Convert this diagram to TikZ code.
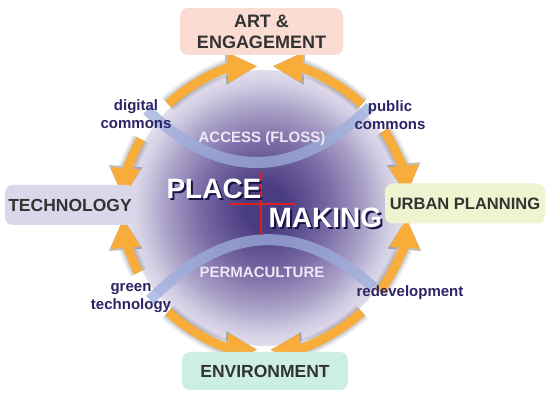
\documentclass[tikz,border=0pt]{standalone}
\usepackage{fontspec}
\setmainfont{Liberation Sans}
\usetikzlibrary{arrows.meta,calc}
\definecolor{orng}{HTML}{F8AC3A}
\definecolor{pcore}{HTML}{4A3C80}
\definecolor{pmid}{HTML}{7A6CA6}
\definecolor{plight}{HTML}{A89FC6}
\definecolor{plighter}{HTML}{D2CDE3}
\definecolor{pedge}{HTML}{E2DFEC}
\definecolor{bluearc}{HTML}{9CAEDC}
\definecolor{artc}{HTML}{FBDCD3}
\definecolor{techc}{HTML}{D8D8EA}
\definecolor{urbc}{HTML}{EFF3CF}
\definecolor{envc}{HTML}{CDEEE3}
\definecolor{boxtext}{HTML}{333333}
\definecolor{navy}{HTML}{2B2565}
\definecolor{shadenavy}{HTML}{1A1448}
\definecolor{lighttext}{HTML}{ECE8F6}
\definecolor{crossred}{HTML}{E02020}
\pgfdeclareradialshading{sphere}{\pgfpoint{0bp}{0bp}}{color(0bp)=(pcore); color(4bp)=(pcore); color(12bp)=(pmid); color(18bp)=(plight); color(22.5bp)=(plighter); color(25bp)=(pedge); color(50bp)=(pedge)}
\tikzset{
  arr/.style={draw=orng, line width=9pt, -{Triangle[length=30pt,width=28pt]}},
  arrshadow/.style={draw=black, -{Triangle[length=32pt,width=31pt]}},
  barc/.style={draw=bluearc, line width=11pt, opacity=0.75},
  box/.style={rounded corners=8pt, inner sep=0pt, align=center, text=boxtext},
  lbl/.style={text=navy, align=center, font=\bfseries\fontsize{15}{18}\selectfont},
  big/.style={anchor=base west, font=\bfseries\fontsize{28}{30}\selectfont},
  midtext/.style={text=lighttext, font=\bfseries\fontsize{15}{18}\selectfont}
}
\begin{document}
\begin{tikzpicture}[x=1pt,y=-1pt]
\useasboundingbox (0,0) rectangle (550,401);
\fill[white] (0,0) rectangle (550,401);
\coordinate (c) at (265,208);
% sphere
\shade[shading=sphere] (c) circle[radius=138];
% blue arcs
\coordinate (bl1) at (147,110);
\coordinate (br1) at (370,107);
\coordinate (bl2) at (150,300);
\coordinate (br2) at (373,287);
\draw[barc] (bl1) .. controls (221,181) and (295,180) .. (br1);
\draw[barc] (bl2) .. controls (225,224) and (299,220) .. (br2);
\node[midtext] (access) at (262,139) {ACCESS (FLOSS)};
\node[midtext] (perma) at (262,272) {PERMACULTURE};
% arrow start points
\foreach \s [count=\i] in {-133,-47,209,153,133,47,36,-33}
  \coordinate (s\i) at ($(c)+(\s:142)$);
% soft shadows
\foreach \w/\o in {18/0.07,14/0.09,10/0.11}{
\begin{scope}[transparency group, opacity=\o, shift={(3,4)}]
\foreach \s/\e [count=\i] in {-133/-93,-47/-87,209/184,153/176,133/93,47/88,36/4,-33/-5}
  \draw[arrshadow, line width=\w pt] (s\i) arc[start angle=\s, end angle=\e, radius=142];
\end{scope}}
% arrows
\foreach \s/\e [count=\i] in {-133/-93,-47/-87,209/184,153/176,133/93,47/88,36/4,-33/-5}
  \draw[arr] (s\i) arc[start angle=\s, end angle=\e, radius=142];
% boxes
\node[box, fill=artc, minimum width=163pt, minimum height=47pt,
  font=\bfseries\fontsize{18}{21}\selectfont] (art) at (261.5,31.5) {ART \&\\ENGAGEMENT};
\node[box, fill=techc, minimum width=130pt, minimum height=40pt,
  font=\bfseries\fontsize{17.5}{20}\selectfont] (tech) at (70,205) {TECHNOLOGY};
\node[box, fill=urbc, minimum width=160pt, minimum height=40pt,
  font=\bfseries\fontsize{16.5}{20}\selectfont] (urban) at (465,203.5) {URBAN PLANNING};
\node[box, fill=envc, minimum width=166pt, minimum height=38pt,
  font=\bfseries\fontsize{17.5}{20}\selectfont] (env) at (265,371) {ENVIRONMENT};
% labels
\node[lbl] (dig) at (136,114) {digital\\commons};
\node[lbl] (pub) at (390,115.5) {public\\commons};
\node[lbl] (grn) at (131,298.5) {green\\technology};
\node[lbl] (red) at (410,293) {redevelopment};
% red cross
\draw[crossred, line width=2pt] (261,172) -- (261,235);
\draw[crossred, line width=2pt] (230,204) -- (295,204);
% place making
\node[big, text=shadenavy] (placeshadow) at (165,201) {PLACE};
\node[big, text=white] (place) at (163,199) {PLACE};
\node[big, text=shadenavy] (makingshadow) at (267,230) {MAKING};
\node[big, text=white] (making) at (265,228) {MAKING};
\end{tikzpicture}
\end{document}
